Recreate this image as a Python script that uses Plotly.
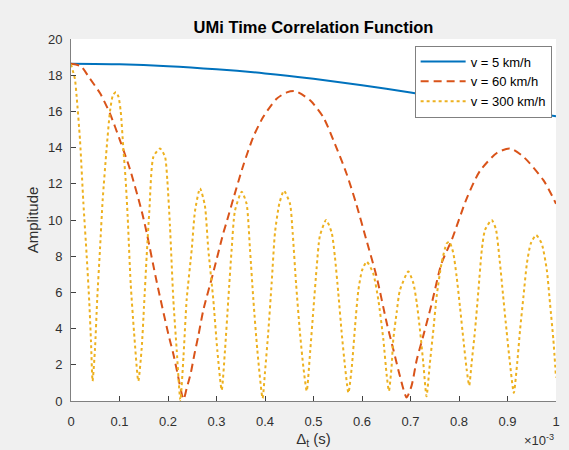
import plotly.graph_objects as go

# time axis in units of 1e-3 s
t_5 = [0, 0.1, 0.2, 0.3, 0.4, 0.5, 0.6, 0.7, 0.8, 0.9, 1.0]
v_5 = [18.63, 18.60, 18.50, 18.33, 18.10, 17.80, 17.45, 17.05, 16.60, 16.15, 15.73]

t_60 = [0, 0.02, 0.0392, 0.06, 0.080, 0.101, 0.1216, 0.1457, 0.156, 0.1766, 0.2007, 0.211, 0.219,
        0.232, 0.2385, 0.247, 0.2543, 0.2625, 0.273, 0.293, 0.314, 0.321, 0.336, 0.355, 0.376,
        0.3965, 0.424, 0.445, 0.462, 0.493, 0.520, 0.541, 0.568, 0.588, 0.609, 0.630, 0.651,
        0.665, 0.678, 0.692, 0.702, 0.713, 0.726, 0.744, 0.764, 0.785, 0.816, 0.843, 0.878,
        0.905, 0.933, 0.974, 1.0]
v_60 = [18.63, 18.5, 17.8, 17.0, 15.9, 14.4, 12.8, 10.5, 9.3, 6.6, 3.7, 2.6, 1.6,
        0.1, 0.7, 1.55, 2.56, 3.6, 5.04, 7.06, 9.27, 9.9, 11.3, 13.0, 14.6,
        15.7, 16.7, 17.05, 17.12, 16.61, 15.69, 14.41, 12.57, 10.9, 8.90, 6.88, 4.31,
        2.8, 1.4, 0.2, 0.82, 2.29, 3.57, 5.41, 7.61, 8.9, 11.2, 12.7, 13.7,
        13.95, 13.49, 12.20, 10.9]

t_300 = [0, 0.008, 0.0117, 0.0186, 0.0254, 0.0324, 0.0378, 0.0412, 0.0445, 0.0495, 0.054, 0.0598,
         0.0653, 0.0736, 0.0804, 0.0865, 0.0928, 0.098, 0.1025, 0.1078, 0.1127, 0.1168, 0.123,
         0.130, 0.1388, 0.1457, 0.1505, 0.156, 0.1615, 0.170, 0.1835, 0.1938, 0.1986, 0.204,
         0.211, 0.218, 0.2255, 0.232, 0.2385, 0.249, 0.2557, 0.266, 0.276, 0.283, 0.2934,
         0.3017, 0.3107, 0.3175, 0.3243, 0.3313, 0.338, 0.352, 0.362, 0.369, 0.376, 0.3842,
         0.395, 0.400, 0.4067, 0.4137, 0.4206, 0.4295, 0.439, 0.4515, 0.457, 0.464, 0.472,
         0.479, 0.486, 0.493, 0.4996, 0.5066, 0.513, 0.526, 0.5375, 0.544, 0.551, 0.558,
         0.565, 0.572, 0.579, 0.5856, 0.5924, 0.600, 0.6097, 0.623, 0.6336, 0.644, 0.651,
         0.6555, 0.661, 0.6645, 0.6715, 0.678, 0.6955, 0.706, 0.713, 0.7196, 0.7264, 0.733,
         0.740, 0.747, 0.754, 0.764, 0.7746, 0.780, 0.788, 0.795, 0.802, 0.809, 0.816, 0.821,
         0.826, 0.833, 0.840, 0.847, 0.8536, 0.8674, 0.876, 0.8845, 0.891, 0.898, 0.905,
         0.913, 0.920, 0.9258, 0.933, 0.940, 0.948, 0.959, 0.9705, 0.981, 0.9876, 0.9945, 1.0]
v_300 = [18.6, 17.8, 16.8, 14.4, 11.0, 8.0, 5.4, 3.3, 1.1, 2.9, 5.6, 8.4,
         11.1, 14.0, 16.0, 16.9, 17.07, 16.8, 16.0, 14.0, 12.2, 10.2, 6.5,
         3.8, 1.1, 2.9, 5.2, 8.0, 10.5, 13.5, 13.95, 13.5, 12.2, 9.7,
         5.6, 2.8, 0.05, 2.5, 5.6, 8.4, 10.5, 11.75, 10.8, 8.4, 5.6,
         2.8, 0.6, 2.8, 5.6, 8.4, 10.5, 11.56, 10.9, 8.4, 5.6, 2.8,
         0.15, 1.6, 3.8, 6.5, 9.3, 10.9, 11.62, 10.9, 9.3, 6.5, 3.8,
         1.9, 0.55, 2.7, 5.0, 7.4, 9.1, 10.0, 9.3, 8.0, 6.0, 3.8,
         1.9, 0.45, 1.9, 4.1, 6.1, 7.2, 7.7, 7.06, 5.6, 3.4, 1.4,
         0.55, 1.9, 3.4, 4.9, 6.1, 7.15, 6.5, 5.4, 3.9, 2.1, 0.26,
         2.1, 3.9, 5.8, 7.6, 8.7, 8.8, 8.2, 6.9, 5.2, 3.4, 1.7, 0.85,
         2.1, 3.9, 6.1, 8.35, 9.45, 10.0, 9.5, 7.6, 5.8, 3.9, 2.1,
         0.45, 2.1, 3.9, 5.8, 7.6, 8.7, 9.17, 8.7, 7.25, 5.4, 3.4, 1.3]

labels = ["v = 5 km/h", "v = 60 km/h", "v = 300 km/h"]
colors = ["#0072BD", "#D95319", "#EDB120"]

x_ticks = [0, 0.1, 0.2, 0.3, 0.4, 0.5, 0.6, 0.7, 0.8, 0.9, 1]
x_tick_text = ["0", "0.1", "0.2", "0.3", "0.4", "0.5", "0.6", "0.7", "0.8", "0.9", "1"]
y_ticks = [0, 2, 4, 6, 8, 10, 12, 14, 16, 18, 20]

FONT = "Liberation Sans, Arial, Helvetica, sans-serif"

fig = go.Figure()
fig.add_trace(go.Scatter(x=t_5, y=v_5, mode="lines", name=labels[0],
                         line=dict(color=colors[0], width=2, shape="spline", smoothing=0.8)))
fig.add_trace(go.Scatter(x=t_60, y=v_60, mode="lines", name=labels[1],
                         line=dict(color=colors[1], width=2, dash="8px,5px", shape="spline", smoothing=0.7)))
fig.add_trace(go.Scatter(x=t_300, y=v_300, mode="lines", name=labels[2],
                         line=dict(color=colors[2], width=2, dash="dot", shape="spline", smoothing=0.6)))

axis_common = dict(showline=True, linecolor="#808080", linewidth=1, ticks="inside", ticklen=5,
                   tickcolor="#404040", tickwidth=1, showgrid=False, zeroline=False, mirror=False,
                   automargin=False,
                   tickfont=dict(family=FONT, size=13, color="#303030"))

fig.update_layout(
    width=569, height=450,
    paper_bgcolor="#f0f0f0", plot_bgcolor="white",
    margin=dict(l=71, r=13, t=38.5, b=48.5, autoexpand=False),
    title=dict(text="<b>UMi Time Correlation Function</b>", x=0.551, xanchor="center",
               y=1 - 27 / 450, yanchor="middle", font=dict(family=FONT, size=16.5, color="#000000")),
    xaxis=dict(range=[0, 1], tickvals=x_ticks, ticktext=x_tick_text, ticklabelstandoff=8,
               title=dict(text="Δ<sub>t</sub> (s)", font=dict(family=FONT, size=15, color="#303030"), standoff=5),
               **axis_common),
    yaxis=dict(range=[0, 20], tickvals=y_ticks, ticklabelstandoff=5,
               title=dict(text="Amplitude", font=dict(family=FONT, size=15, color="#303030"), standoff=5),
               **axis_common),
    legend=dict(x=0.991, y=0.982, xanchor="right", yanchor="top", bgcolor="white",
                bordercolor="#808080", borderwidth=1, font=dict(family=FONT, size=13, color="#000000"),
                tracegroupgap=0, itemwidth=45),
    showlegend=True,
)

fig.add_annotation(text="×10<sup>-3</sup>", xref="paper", yref="paper", x=1.0, y=-0.107,
                   xanchor="right", yanchor="middle", showarrow=False,
                   font=dict(family=FONT, size=13, color="#303030"))

fig.write_html("out.html", config={"displayModeBar": False},
               post_script="document.body.style.margin='0';document.body.style.background='#f0f0f0';")
